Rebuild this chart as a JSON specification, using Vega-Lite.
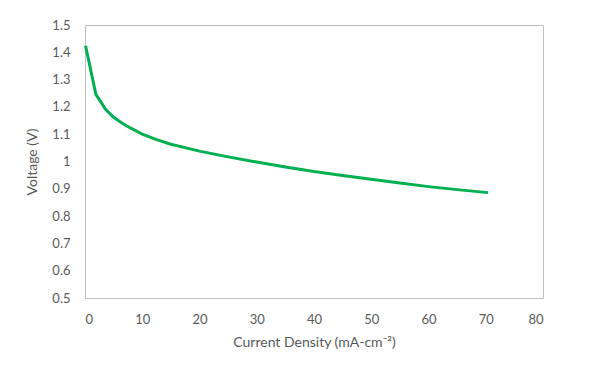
{
  "$schema": "https://vega.github.io/schema/vega-lite/v6.json",
  "autosize": {"type": "none"},
  "width": 458,
  "height": 273,
  "padding": {"left": 85, "top": 25, "right": 55, "bottom": 80},
  "background": "white",
  "config": {
    "font": "Lato",
    "view": {"stroke": "#bfbfbf", "strokeWidth": 1}
  },
  "data": {
    "values": [
      {"j": 0.1, "v": 1.424},
      {"j": 1.9, "v": 1.246},
      {"j": 3.6, "v": 1.191},
      {"j": 5, "v": 1.162},
      {"j": 6.5, "v": 1.140},
      {"j": 8, "v": 1.122},
      {"j": 10, "v": 1.100},
      {"j": 12.5, "v": 1.080},
      {"j": 15, "v": 1.063},
      {"j": 20, "v": 1.038},
      {"j": 25, "v": 1.017},
      {"j": 30, "v": 0.998},
      {"j": 35, "v": 0.980},
      {"j": 40, "v": 0.963},
      {"j": 45, "v": 0.949},
      {"j": 50, "v": 0.935},
      {"j": 55, "v": 0.921},
      {"j": 60, "v": 0.908},
      {"j": 65, "v": 0.897},
      {"j": 70.4, "v": 0.886}
    ]
  },
  "mark": {"type": "line", "color": "#00B050", "strokeWidth": 3},
  "encoding": {
    "x": {
      "field": "j", "type": "quantitative",
      "scale": {"domain": [0, 80], "nice": false},
      "axis": {
        "values": [0, 10, 20, 30, 40, 50, 60, 70, 80],
        "title": "Current Density (mA-cm⁻²)",
        "grid": false, "domain": false, "ticks": false,
        "labelPadding": 15, "labelFontSize": 13, "labelColor": "#595959",
        "titleFontSize": 14, "titleFontWeight": "normal", "titleColor": "#595959",
        "titlePadding": 9
      }
    },
    "y": {
      "field": "v", "type": "quantitative",
      "scale": {"domain": [0.5, 1.5], "nice": false, "zero": false},
      "axis": {
        "values": [0.5, 0.6, 0.7, 0.8, 0.9, 1, 1.1, 1.2, 1.3, 1.4, 1.5],
        "format": "~g",
        "title": "Voltage (V)",
        "grid": false, "domain": false, "ticks": false,
        "labelPadding": 15, "labelFontSize": 13, "labelColor": "#595959",
        "titleFontSize": 14, "titleFontWeight": "normal", "titleColor": "#595959",
        "titlePadding": 12
      }
    }
  }
}
